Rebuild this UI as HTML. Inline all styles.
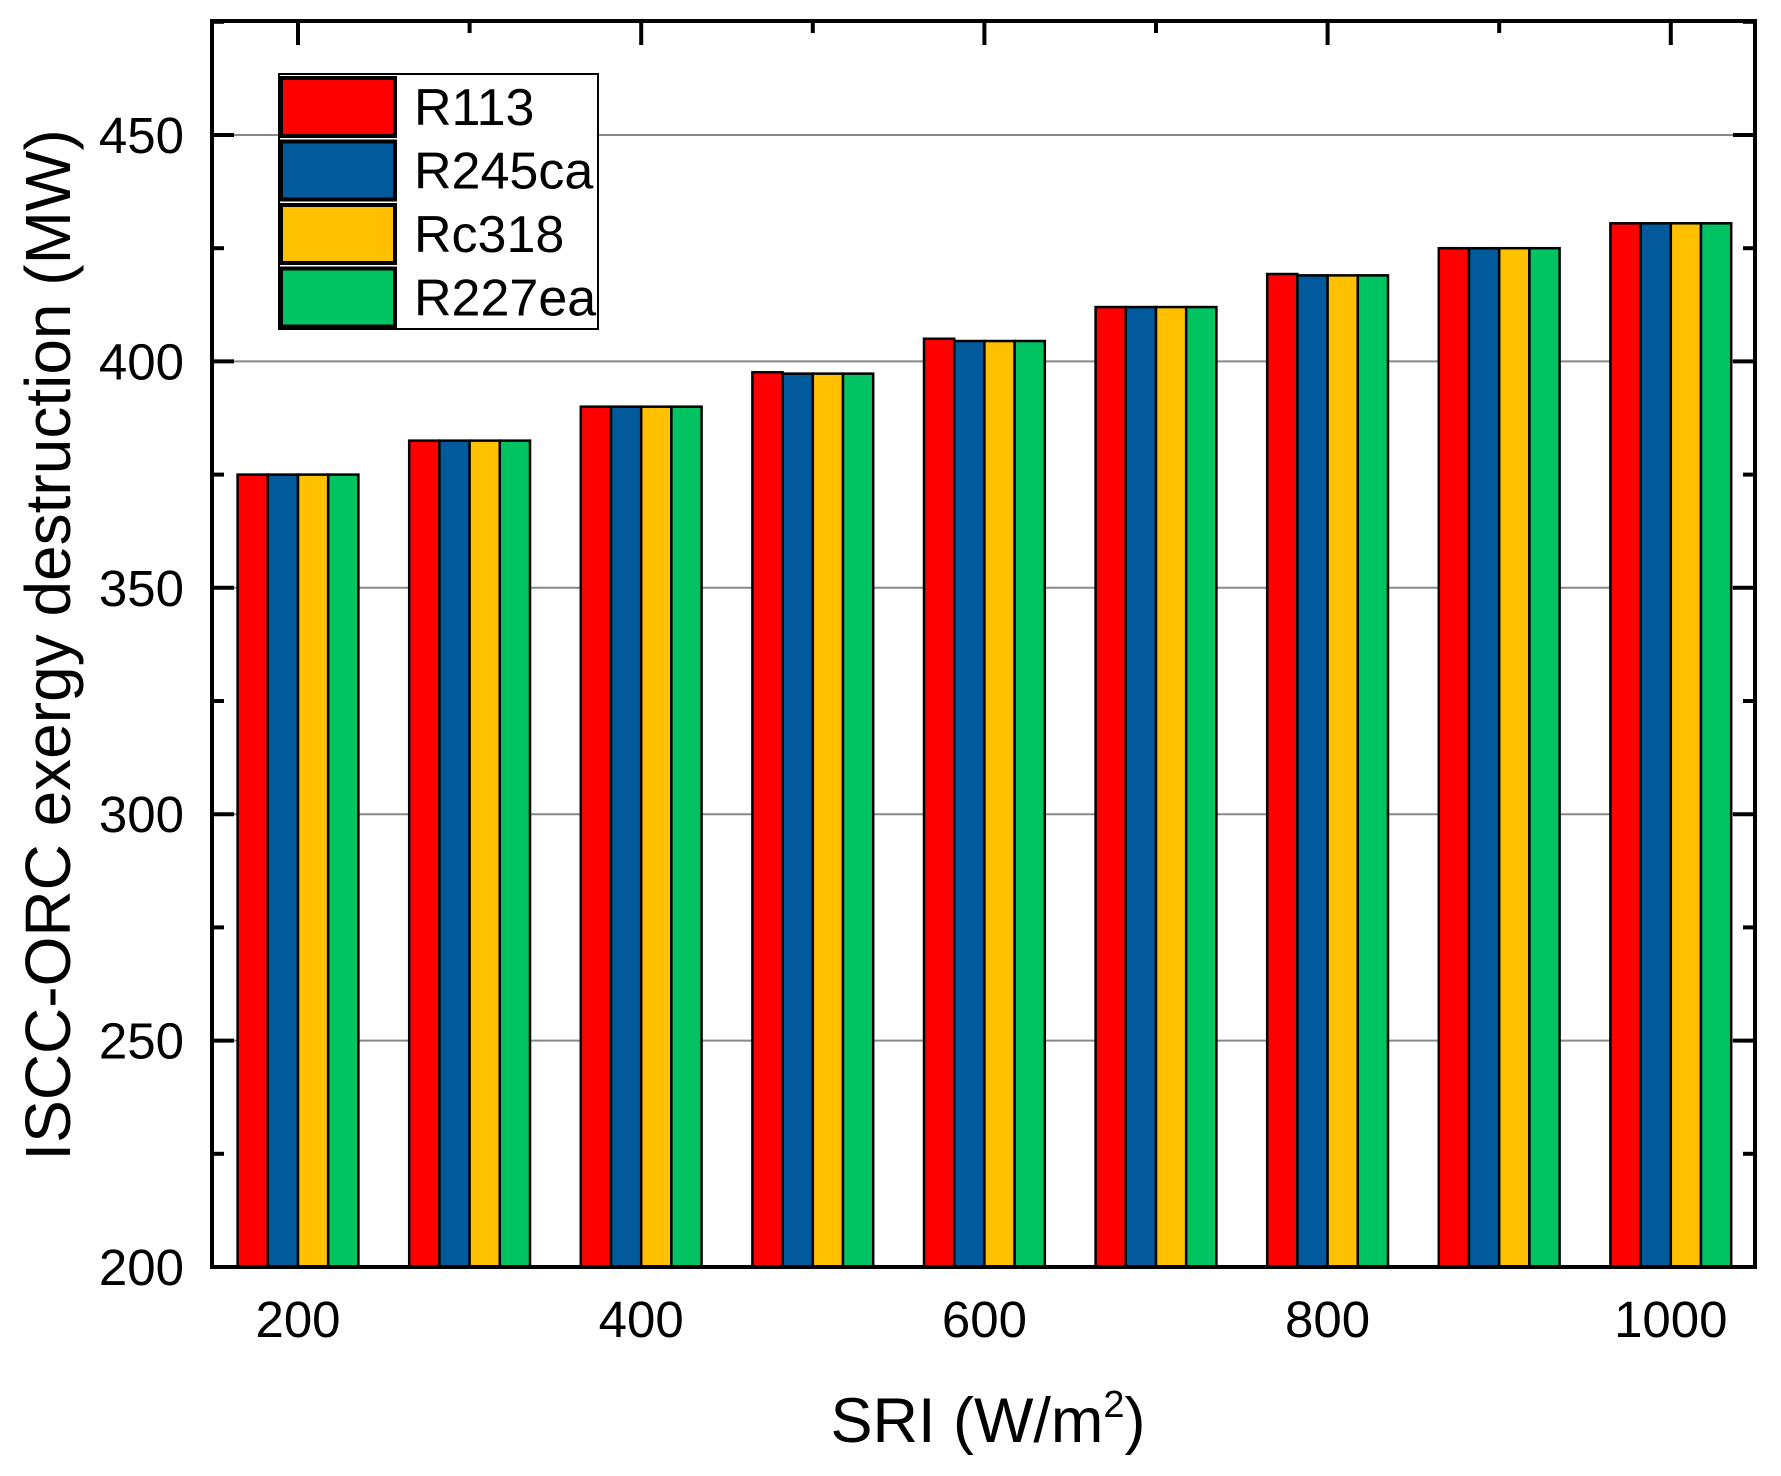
<!DOCTYPE html>
<html><head><meta charset="utf-8"><style>
html,body{margin:0;padding:0;background:#fff;}
svg{display:block;font-family:"Liberation Sans",Arial,sans-serif;}
</style></head><body>
<svg id="chart" width="1781" height="1476" viewBox="0 0 1781 1476" xmlns="http://www.w3.org/2000/svg">
<rect x="0" y="0" width="1781" height="1476" fill="#fff"/>
<g id="grid"></g>
<g id="bars"></g>
<g id="axes"></g>
<text x="0" y="0" transform="translate(70,645) rotate(-90)" text-anchor="middle" font-size="64" fill="#000">ISCC-ORC exergy destruction (MW)</text>
<text x="988" y="1442" text-anchor="middle" font-size="63" fill="#000">SRI (W/m<tspan dy="-25" font-size="38">2</tspan><tspan dy="25">)</tspan></text>
<g>
<rect x="279" y="74" width="319" height="255" fill="#fff" stroke="#000" stroke-width="2"/>
</g>
<g id="legend"></g>
</svg>
<script>
const categories=[200,300,400,500,600,700,800,900,1000];
const seriesNames=["R113","R245ca","Rc318","R227ea"];
const seriesColors=["#ff0000","#005a9c","#ffc000","#00c462"];
const r113=[375,382.5,390,397.6,405,412,419.3,425,430.5];
const r245ca=[375,382.5,390,397.3,404.5,412,419,425,430.5];
const rc318=[375,382.5,390,397.3,404.5,412,419,425,430.5];
const r227ea=[375,382.5,390,397.3,404.5,412,419,425,430.5];
const yTicks=[200,250,300,350,400,450];
const xTicks=[200,400,600,800,1000];

const NS="http://www.w3.org/2000/svg";
const L=212,R=1755,T=21,B=1267;
const yMin=200,yMax=475;
function yS(v){return 1267-(v-200)*4.528;}
function xS(v){return 298+(v-200)*1.716;}
function mk(tag,attrs,parent){const e=document.createElementNS(NS,tag);for(const k in attrs)e.setAttribute(k,attrs[k]);parent.appendChild(e);return e;}
const grid=document.getElementById('grid'),bars=document.getElementById('bars'),axes=document.getElementById('axes'),legend=document.getElementById('legend');

yTicks.forEach(v=>{if(v===200)return;
 const g=mk('line',{x1:L,x2:R,y1:yS(v),y2:yS(v),stroke:'#888',"stroke-width":2},grid);
 
 
});
const all=[r113,r245ca,rc318,r227ea];
const bw=30.2;
categories.forEach((c,i)=>{
 const cx=xS(c);
 all.forEach((s,j)=>{
  const x=cx-2*bw+j*bw;
  const r=mk('rect',{x:x,y:yS(s[i]),width:bw,height:yS(yMin)-yS(s[i]),fill:seriesColors[j],stroke:'#000',"stroke-width":2.5},bars);
  
  
 });
});
const fr=mk('rect',{x:L,y:T,width:R-L,height:B-T,fill:'none',stroke:'#000',"stroke-width":4},axes);


for(let v=200;v<=475;v+=25){
 const major=v%50===0;const len=major?22:12;
 mk('line',{x1:L,x2:L+len,y1:yS(v),y2:yS(v),stroke:'#000',"stroke-width":4},axes);
 mk('line',{x1:R,x2:R-len,y1:yS(v),y2:yS(v),stroke:'#000',"stroke-width":4},axes);
}
yTicks.forEach(v=>{
 const t=mk('text',{x:184,y:yS(v)+18,"text-anchor":"end","font-size":51,fill:'#000'},axes);
 t.textContent=v;
 
 
});
categories.forEach(c=>{
 const major=c%200===0;const len=major?24:12;
 mk('line',{x1:xS(c),x2:xS(c),y1:T,y2:T+len,stroke:'#000',"stroke-width":4},axes);
});
xTicks.forEach(v=>{
 const t=mk('text',{x:xS(v),y:1337,"text-anchor":"middle","font-size":51,fill:'#000'},axes);
 t.textContent=v;
 
 
});
seriesNames.forEach((n,j)=>{
 const y=76+j*63.5;
 const r=mk('rect',{x:281,y:y+2,width:114,height:58,fill:seriesColors[j],stroke:'#000',"stroke-width":4},legend);
 
 
 const t=mk('text',{x:414,y:y+49,"font-size":52,fill:'#000'},legend);
 t.textContent=n;
 
 
});
</script>
</body></html>
